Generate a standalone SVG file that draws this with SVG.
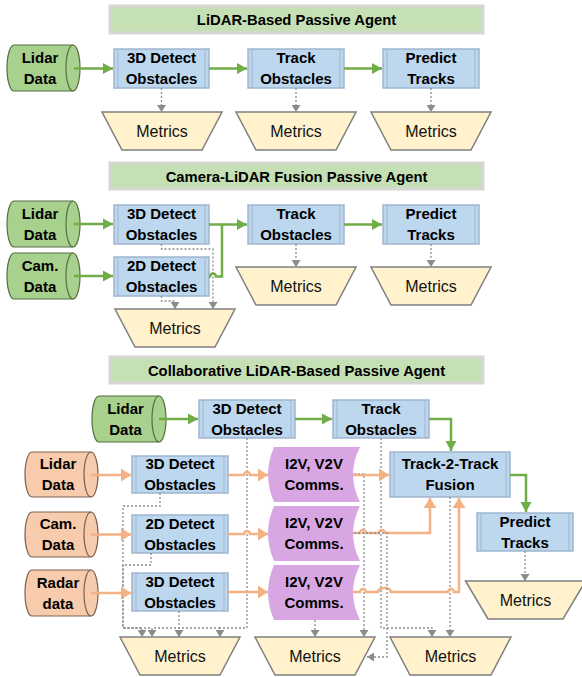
<svg xmlns="http://www.w3.org/2000/svg" width="582" height="677" viewBox="0 0 582 677">
<defs>
<style>
.ttl{fill:#c5e0b4;stroke:#d6d6d6;stroke-width:3}
.b{fill:#bdd7ee;stroke:#9fb6cd;stroke-width:1.5}
.bi{fill:none;stroke:#9fb6cd;stroke-width:1}
.cg{fill:#a9d18e;stroke:#55703f;stroke-width:1.2}
.co{fill:#f8cbad;stroke:#7a6250;stroke-width:1.2}
.ce{fill:none}
.m{fill:#fff2cc;stroke:#7f7f7f;stroke-width:1.5}
.cm{fill:#d8a7e3;stroke:none}
.t{font-family:"Liberation Sans",Arial,sans-serif;font-weight:bold;font-size:15px;text-anchor:middle;fill:#000}
.h{font-size:14.8px}
.mt{font-weight:normal;font-size:16px;fill:#111}
.g{fill:none;stroke:#70ad47;stroke-width:2.5}
.o{fill:none;stroke:#f4b183;stroke-width:2.5}
.d{fill:none;stroke:#8c8c8c;stroke-width:1.3;stroke-dasharray:2 2}
</style>
<marker id="ag" markerWidth="12" markerHeight="12" refX="10" refY="6" orient="auto" markerUnits="userSpaceOnUse"><path d="M0,0.5 L10,6 L0,11.5 Z" fill="#70ad47"/></marker>
<marker id="ao" markerWidth="12" markerHeight="14" refX="10" refY="7" orient="auto" markerUnits="userSpaceOnUse"><path d="M0,0.5 L10,7 L0,13.5 Z" fill="#f4b183"/></marker>
<marker id="ad" markerWidth="8" markerHeight="9" refX="7" refY="4.5" orient="auto" markerUnits="userSpaceOnUse"><path d="M0,0 L7,4.5 L0,9 Z" fill="#8c8c8c"/></marker>
</defs>

<!-- ===== Section 1 ===== -->
<g id="s1-title"><rect class="ttl" x="110" y="6" width="373" height="27"/><text class="t h" x="296.5" y="25">LiDAR-Based Passive Agent</text></g>
<g id="s1-lidar"><path class="cg" d="M14,45 H73 A7,23 0 0 1 73,91 H14 A7,23 0 0 1 14,45 Z"/><path class="cg ce" d="M73,45 A7,23 0 0 0 73,91"/><text class="t" x="40" y="63">Lidar</text><text class="t" x="40" y="84">Data</text></g>
<g id="s1-detect"><rect class="b" x="114" y="49" width="95" height="39"/><path class="bi" d="M118,49 V88 M205,49 V88"/><text class="t" x="161.5" y="63">3D Detect</text><text class="t" x="161.5" y="84">Obstacles</text></g>
<g id="s1-track"><rect class="b" x="248" y="49" width="96" height="39"/><path class="bi" d="M252,49 V88 M340,49 V88"/><text class="t" x="296" y="63">Track</text><text class="t" x="296" y="84">Obstacles</text></g>
<g id="s1-predict"><rect class="b" x="383" y="49" width="96" height="39"/><path class="bi" d="M387,49 V88 M475,49 V88"/><text class="t" x="431" y="63">Predict</text><text class="t" x="431" y="84">Tracks</text></g>
<g id="s1-m1"><polygon class="m" points="102,112 222,112 202,150 122,150"/><text class="t mt" x="162" y="136.5">Metrics</text></g>
<g id="s1-m2"><polygon class="m" points="236,112 356,112 336,150 256,150"/><text class="t mt" x="296" y="136.5">Metrics</text></g>
<g id="s1-m3"><polygon class="m" points="371,112 491,112 471,150 391,150"/><text class="t mt" x="431" y="136.5">Metrics</text></g>

<!-- ===== Section 2 ===== -->
<g id="s2-title"><rect class="ttl" x="110" y="163" width="373" height="26"/><text class="t h" x="296.5" y="181.5">Camera-LiDAR Fusion Passive Agent</text></g>
<g id="s2-lidar"><path class="cg" d="M14,201 H73 A7,23 0 0 1 73,247 H14 A7,23 0 0 1 14,201 Z"/><path class="cg ce" d="M73,201 A7,23 0 0 0 73,247"/><text class="t" x="40" y="218.5">Lidar</text><text class="t" x="40" y="239.5">Data</text></g>
<g id="s2-cam"><path class="cg" d="M14,253 H73 A7,23 0 0 1 73,299 H14 A7,23 0 0 1 14,253 Z"/><path class="cg ce" d="M73,253 A7,23 0 0 0 73,299"/><text class="t" x="40" y="270.5">Cam.</text><text class="t" x="40" y="291.5">Data</text></g>
<g id="s2-detect3d"><rect class="b" x="114" y="205" width="95" height="39"/><path class="bi" d="M118,205 V244 M205,205 V244"/><text class="t" x="161.5" y="219">3D Detect</text><text class="t" x="161.5" y="240">Obstacles</text></g>
<g id="s2-detect2d"><rect class="b" x="114" y="257" width="95" height="39"/><path class="bi" d="M118,257 V296 M205,257 V296"/><text class="t" x="161.5" y="271">2D Detect</text><text class="t" x="161.5" y="292">Obstacles</text></g>
<g id="s2-track"><rect class="b" x="248" y="205" width="96" height="39"/><path class="bi" d="M252,205 V244 M340,205 V244"/><text class="t" x="296" y="219">Track</text><text class="t" x="296" y="240">Obstacles</text></g>
<g id="s2-predict"><rect class="b" x="383" y="205" width="96" height="39"/><path class="bi" d="M387,205 V244 M475,205 V244"/><text class="t" x="431" y="219">Predict</text><text class="t" x="431" y="240">Tracks</text></g>
<g id="s2-m1"><polygon class="m" points="115,309 235,309 215,347 135,347"/><text class="t mt" x="175" y="333.5">Metrics</text></g>
<g id="s2-m2"><polygon class="m" points="236,267 356,267 336,305 256,305"/><text class="t mt" x="296" y="291.5">Metrics</text></g>
<g id="s2-m3"><polygon class="m" points="371,267 491,267 471,305 391,305"/><text class="t mt" x="431" y="291.5">Metrics</text></g>

<!-- ===== Section 3 ===== -->
<g id="s3-title"><rect class="ttl" x="110" y="357" width="373" height="26"/><text class="t h" x="296.5" y="375.5">Collaborative LiDAR-Based Passive Agent</text></g>
<g id="s3-lidar-ego"><path class="cg" d="M99,396 H159 A7,23 0 0 1 159,442 H99 A7,23 0 0 1 99,396 Z"/><path class="cg ce" d="M159,396 A7,23 0 0 0 159,442"/><text class="t" x="125.5" y="413.5">Lidar</text><text class="t" x="125.5" y="434.5">Data</text></g>
<g id="s3-detect-ego"><rect class="b" x="199" y="400" width="96" height="38"/><path class="bi" d="M203,400 V438 M291,400 V438"/><text class="t" x="247" y="413.5">3D Detect</text><text class="t" x="247" y="434.5">Obstacles</text></g>
<g id="s3-track"><rect class="b" x="333" y="400" width="96" height="38"/><path class="bi" d="M337,400 V438 M425,400 V438"/><text class="t" x="381" y="413.5">Track</text><text class="t" x="381" y="434.5">Obstacles</text></g>
<g id="s3-fusion"><rect class="b" x="390" y="452" width="120" height="45"/><path class="bi" d="M394,452 V497 M506,452 V497"/><text class="t" x="450" y="469">Track-2-Track</text><text class="t" x="450" y="490">Fusion</text></g>
<g id="s3-predict"><rect class="b" x="477" y="513" width="96" height="38"/><path class="bi" d="M481,513 V551 M569,513 V551"/><text class="t" x="525" y="526.5">Predict</text><text class="t" x="525" y="547.5">Tracks</text></g>

<g id="s3-lidar-r"><path class="co" d="M32,452 H91 A7,22.5 0 0 1 91,497 H32 A7,22.5 0 0 1 32,452 Z"/><path class="co ce" d="M91,452 A7,22.5 0 0 0 91,497"/><text class="t" x="58" y="469">Lidar</text><text class="t" x="58" y="490">Data</text></g>
<g id="s3-cam-r"><path class="co" d="M32,512 H91 A7,22.5 0 0 1 91,557 H32 A7,22.5 0 0 1 32,512 Z"/><path class="co ce" d="M91,512 A7,22.5 0 0 0 91,557"/><text class="t" x="58" y="529">Cam.</text><text class="t" x="58" y="550">Data</text></g>
<g id="s3-radar-r"><path class="co" d="M32,570 H91 A7,23 0 0 1 91,616 H32 A7,23 0 0 1 32,570 Z"/><path class="co ce" d="M91,570 A7,23 0 0 0 91,616"/><text class="t" x="58" y="587.5">Radar</text><text class="t" x="58" y="608.5">data</text></g>

<g id="s3-detect-r1"><rect class="b" x="132" y="456" width="96" height="37"/><path class="bi" d="M136,456 V493 M224,456 V493"/><text class="t" x="180" y="469">3D Detect</text><text class="t" x="180" y="490">Obstacles</text></g>
<g id="s3-detect-r2"><rect class="b" x="132" y="515" width="96" height="38"/><path class="bi" d="M136,515 V553 M224,515 V553"/><text class="t" x="180" y="528.5">2D Detect</text><text class="t" x="180" y="549.5">Obstacles</text></g>
<g id="s3-detect-r3"><rect class="b" x="132" y="573" width="96" height="38"/><path class="bi" d="M136,573 V611 M224,573 V611"/><text class="t" x="180" y="586.5">3D Detect</text><text class="t" x="180" y="607.5">Obstacles</text></g>

<g id="s3-comm1"><path class="cm" d="M274,447 H360 Q346,474.5 360,502 H274 Q262,474.5 274,447 Z"/><text class="t" x="314" y="469">I2V, V2V</text><text class="t" x="314" y="490">Comms.</text></g>
<g id="s3-comm2"><path class="cm" d="M274,506 H360 Q346,533.5 360,561 H274 Q262,533.5 274,506 Z"/><text class="t" x="314" y="528">I2V, V2V</text><text class="t" x="314" y="549">Comms.</text></g>
<g id="s3-comm3"><path class="cm" d="M274,565 H360 Q346,592.5 360,620 H274 Q262,592.5 274,565 Z"/><text class="t" x="314" y="587">I2V, V2V</text><text class="t" x="314" y="608">Comms.</text></g>

<g id="s3-m1"><polygon class="m" points="120,637 240,637 220,675 140,675"/><text class="t mt" x="180" y="661.5">Metrics</text></g>
<g id="s3-m2"><polygon class="m" points="255,637 375,637 355,675 275,675"/><text class="t mt" x="315" y="661.5">Metrics</text></g>
<g id="s3-m3"><polygon class="m" points="390,637 511,637 491,675 410,675"/><text class="t mt" x="450.5" y="661.5">Metrics</text></g>
<g id="s3-m4"><polygon class="m" points="465.5,581 585.5,581 563,619 488,619"/><text class="t mt" x="525.5" y="605.5">Metrics</text></g>

<!-- ===== Connectors ===== -->
<g id="connectors">
<!-- section 1 -->
<path class="g" d="M74,68.5 H113" marker-end="url(#ag)"/>
<path class="g" d="M209,68.5 H247" marker-end="url(#ag)"/>
<path class="g" d="M344,68.5 H382" marker-end="url(#ag)"/>
<path class="d" d="M161.5,88 V112" marker-end="url(#ad)"/>
<path class="d" d="M296,88 V112" marker-end="url(#ad)"/>
<path class="d" d="M431,88 V112" marker-end="url(#ad)"/>
<!-- section 2 -->
<path class="d" d="M161.5,244 V249 H213 V309" marker-end="url(#ad)"/>
<path class="d" d="M161.5,296 V301 H175 V309" marker-end="url(#ad)"/>
<path class="d" d="M296,244 V267" marker-end="url(#ad)"/>
<path class="d" d="M431,244 V267" marker-end="url(#ad)"/>
<path class="g" d="M74,224 H113" marker-end="url(#ag)"/>
<path class="g" d="M74,276 H113" marker-end="url(#ag)"/>
<path class="g" d="M209,224.5 H247" marker-end="url(#ag)"/>
<path class="g" d="M344,224.5 H382" marker-end="url(#ag)"/>
<path class="g" d="M209,276.5 H210 a3,3 0 0 1 6,0 H222 V224.5"/>
<!-- section 3 dotted -->
<path class="d" d="M247,438 V628 H220 V637" marker-end="url(#ad)"/>
<path class="d" d="M220,628 H152"/>
<path class="d" d="M160,493 V506 H123 V628 H142 V637" marker-end="url(#ad)"/>
<path class="d" d="M151,553 V565 H123 V628 H152 V637" marker-end="url(#ad)"/>
<path class="d" d="M179,611 V637" marker-end="url(#ad)"/>
<path class="d" d="M354,474 H364 V637" marker-end="url(#ad)"/>
<path class="d" d="M381,438 V628 H432 V637" marker-end="url(#ad)"/>
<path class="d" d="M315,620 V637" marker-end="url(#ad)"/>
<path class="d" d="M450,497 V637" marker-end="url(#ad)"/>
<path class="d" d="M525,551 V581" marker-end="url(#ad)"/>
<!-- section 3 green -->
<path class="g" d="M159,419 H198" marker-end="url(#ag)"/>
<path class="g" d="M295,419 H332" marker-end="url(#ag)"/>
<path class="g" d="M429,419 H451 V451" marker-end="url(#ag)"/>
<path class="g" d="M510,475 H526 V512" marker-end="url(#ag)"/>
<!-- section 3 orange -->
<path class="o" d="M91,475 H131" marker-end="url(#ao)"/>
<path class="o" d="M91,534.5 H131" marker-end="url(#ao)"/>
<path class="o" d="M91,593 H131" marker-end="url(#ao)"/>
<path class="o" d="M228,475 H244 a3,3 0 0 1 6,0 H268" marker-end="url(#ao)"/>
<path class="o" d="M228,534 H244 a3,3 0 0 1 6,0 H268" marker-end="url(#ao)"/>
<path class="o" d="M228,592 H268" marker-end="url(#ao)"/>
<path class="o" d="M353,475 H389" marker-end="url(#ao)"/>
<path class="o" d="M353,533 H360 a3,3 0 0 1 6,0 H379 a3,3 0 0 1 6,0 H430 V498" marker-end="url(#ao)"/>
<path class="o" d="M353,592 H360 a3,3 0 0 1 6,0 H378 a6.5,4 0 0 1 13,0 H448 a3,3 0 0 1 6,0 H459 V498" marker-end="url(#ao)"/>
<path class="d" d="M354,533 H387 V657 H367" marker-end="url(#ad)"/>
</g>
</svg>
